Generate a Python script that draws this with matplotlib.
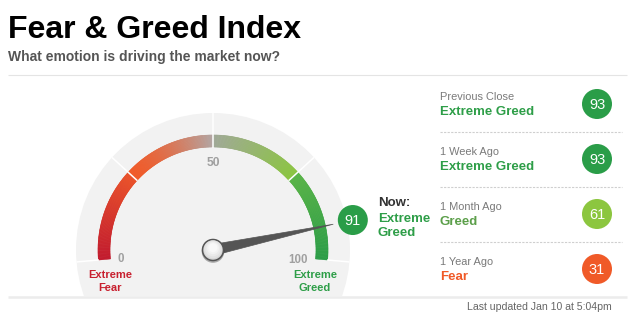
import numpy as np
import matplotlib
matplotlib.use("Agg")
import matplotlib.pyplot as plt
from matplotlib.patches import Wedge, Circle, Polygon, Rectangle
from matplotlib.colors import to_rgb

# ---------------- data ----------------
title = "Fear & Greed Index"
subtitle = "What emotion is driving the market now?"
now_value = 91
now_rating = ["Extreme", "Greed"]
gauge_ticks = [0, 50, 100]
gauge_dividers = [0, 25, 50, 75, 100]
zone_start = [0, 25, 50, 75]
zone_end = [25, 50, 75, 100]
zone_color_a = ["#c1192d", "#f05a28", "#a0a898", "#5ab447"]
zone_color_b = ["#ea5229", "#b2a5a3", "#8bc53f", "#2b9d47"]
zone_gamma = [1.0, 1.6, 1.0, 1.0]
history_labels = ["Previous Close", "1 Week Ago", "1 Month Ago", "1 Year Ago"]
history_values = [93, 93, 61, 31]
history_ratings = ["Extreme Greed", "Extreme Greed", "Greed", "Fear"]
updated_text = "Last updated Jan 10 at 5:04pm"

rating_circle = {"Extreme Greed": "#2a9d48", "Greed": "#8cc63f",
                 "Fear": "#f05a28", "Extreme Fear": "#c8202f"}
rating_text = {"Extreme Greed": "#2e9e48", "Greed": "#5c9f4a",
               "Fear": "#f05a28", "Extreme Fear": "#c8202f"}

FONT = "Liberation Sans"

fig = plt.figure(figsize=(6.39, 3.29), dpi=100)
ax = fig.add_axes([0, 0, 1, 1])
ax.set_xlim(0, 639)
ax.set_ylim(329, 0)
ax.axis("off")

# ---------------- header ----------------
ax.text(8, 37.5, title, fontsize=23, fontweight="bold", color="#000000",
        family=FONT, va="baseline", ha="left")
ax.text(8, 61, subtitle, fontsize=10, fontweight="bold", color="#555555",
        family=FONT, va="baseline", ha="left")
ax.plot([8, 627], [75, 75], color="#e4e4e4", lw=0.8, solid_capstyle="butt")

# ---------------- gauge ----------------
cx, cy = 213, 250
R_out, R_band_o, R_band_i = 137, 115, 103
A0, SPAN = 185.0, 190.0


def ang(v):
    return A0 - SPAN * v / 100.0


def pt(r, v):
    a = np.radians(ang(v))
    return cx + r * np.cos(a), cy - r * np.sin(a)


bg = Circle((cx, cy), R_out, facecolor="#f2f2f2", edgecolor="none", zorder=1)
ax.add_patch(bg)
clip = Rectangle((0, 0), 639, 296, transform=ax.transData)
bg.set_clip_path(clip)

# gradient band
for s, e, ca, cb, g in zip(zone_start, zone_end, zone_color_a, zone_color_b, zone_gamma):
    n = 120
    vs = np.linspace(s, e, n + 1)
    c0 = np.array(to_rgb(ca))
    c1 = np.array(to_rgb(cb))
    for k in range(n):
        t = ((k + 0.5) / n) ** g
        col = c0 + (c1 - c0) * t
        a1, a2 = ang(vs[k]), ang(vs[k + 1])
        w = Wedge((cx, cy), R_band_o, -a1, -a2 + 0.0001, width=R_band_o - R_band_i,
                  facecolor=col, edgecolor=col, lw=0.4, zorder=2)
        ax.add_patch(w)

# dividers
for v in gauge_dividers:
    r_in = R_band_i if 0 < v < 100 else R_band_o
    x0, y0 = pt(r_in - 0.5, v)
    x1, y1 = pt(R_out, v)
    ax.plot([x0, x1], [y0, y1], color="white", lw=1.1, zorder=3,
            solid_capstyle="butt")

# tick labels
tick_r = {0: 93, 50: 88, 100: 85}
tick_base = {0: 262.5, 50: 166, 100: 263}
for v in gauge_ticks:
    x, _ = pt(tick_r[v], v)
    ax.text(x, tick_base[v], str(v), fontsize=8.7 if v == 50 else 8.3,
            fontweight="bold", color="#a0a0a0", family=FONT, ha="center",
            va="baseline", zorder=4)

# end labels
for dx, word, rat in [(-103, "Fear", "Extreme Fear"), (102, "Greed", "Extreme Greed")]:
    ax.text(cx + dx, 278, "Extreme", fontsize=8, fontweight="bold",
            color=rating_text[rat], family=FONT, ha="center", va="baseline", zorder=4)
    ax.text(cx + dx, 291, word, fontsize=8, fontweight="bold",
            color=rating_text[rat], family=FONT, ha="center", va="baseline", zorder=4)

# needle
a = np.radians(ang(now_value))
tip = (cx + 123 * np.cos(a), cy - 123 * np.sin(a))
px, py = np.sin(a), np.cos(a)
hw = 5.5
needle = Polygon([tip, (cx + hw * px, cy + hw * py), (cx - hw * px, cy - hw * py)],
                 closed=True, facecolor="#555555", edgecolor="#555555", lw=0.5, zorder=5)
ax.add_patch(needle)

# knob
ax.add_patch(Circle((cx, cy + 1.5), 11.3, facecolor="#000000", alpha=0.3,
                    edgecolor="none", zorder=6))
ax.add_patch(Circle((cx, cy), 10.5, facecolor="#d4d4d4", edgecolor="#555555",
                    lw=1.1, zorder=7))
for rr, col, dy in [(9.0, "#e2e2e2", -0.6), (7.5, "#eaeaea", -1.2),
                    (6.0, "#f2f2f2", -1.8), (4.5, "#f8f8f8", -2.3)]:
    ax.add_patch(Circle((cx, cy + dy), rr, facecolor=col, edgecolor="none", zorder=8))

# now value circle
nx, ny = pt(143, now_value)
ax.add_patch(Circle((nx, ny), 15, facecolor=rating_circle["Extreme Greed"],
                    edgecolor="none", zorder=6))
ax.text(nx, ny + 5, str(now_value), fontsize=10.5, color="white", family=FONT,
        ha="center", va="baseline", zorder=7)
ax.text(378, 206, "Now:", fontsize=9.5, fontweight="bold", color="#333333",
        family=FONT, ha="left", va="baseline")
ax.text(378, 221.5, now_rating[0], fontsize=9.5, fontweight="bold",
        color=rating_text["Extreme Greed"], family=FONT, ha="left", va="baseline")
ax.text(378, 236.5, now_rating[1], fontsize=9.5, fontweight="bold",
        color=rating_text["Extreme Greed"], family=FONT, ha="left", va="baseline")

# ---------------- history panel ----------------
for i, (lab, val, rat) in enumerate(zip(history_labels, history_values, history_ratings)):
    ccy = 104 + 55 * i
    ax.text(440, ccy - 4, lab, fontsize=7.9, color="#7a7a7a", family=FONT,
            ha="left", va="baseline")
    ax.text(440, ccy + 11, rat, fontsize=9.5, fontweight="bold",
            color=rating_text[rat], family=FONT, ha="left", va="baseline")
    ax.add_patch(Circle((597, ccy), 15, facecolor=rating_circle[rat],
                        edgecolor="none", zorder=3))
    ax.text(597, ccy + 5, str(val), fontsize=10.5, color="white", family=FONT,
            ha="center", va="baseline", zorder=4)
    if i < len(history_labels) - 1:
        ax.plot([440, 622], [ccy + 28, ccy + 28], color="#cfcfcf", lw=0.8,
                linestyle=(0, (2, 1.2)))

# ---------------- footer ----------------
ax.plot([8, 627], [296.5, 296.5], color="#ececec", lw=1.8, solid_capstyle="butt", zorder=5)
ax.text(612, 310, updated_text, fontsize=7.6, color="#666666", family=FONT,
        ha="right", va="baseline")

fig.savefig("out.png", dpi=100)
